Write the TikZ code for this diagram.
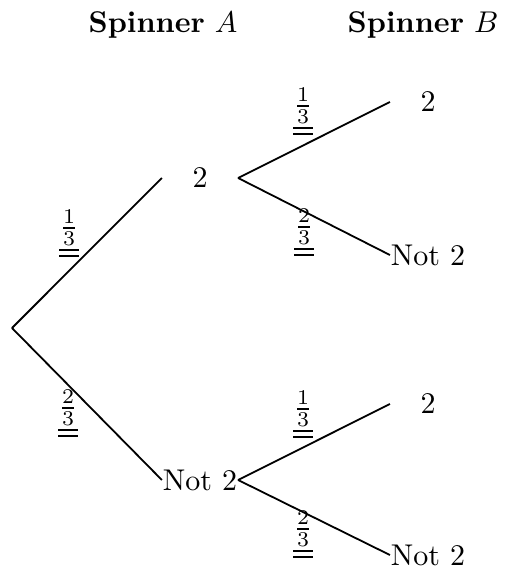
\documentclass[tikz,border=0pt]{standalone}
\begin{document}
\begin{tikzpicture}[x=0.3333pt,y=-0.3333pt,
 outcome/.style={inner sep=0pt,minimum width=25pt},
 prob/.style={inner sep=0pt},
 branch/.style={semithick}]
 \useasboundingbox (0,0) rectangle (511,571);
 \node (headA) at (163,25) {\textbf{Spinner} $A$};
 \node (headB) at (423,25) {\textbf{Spinner} $B$};
 \coordinate (root) at (12,328);
 \node[outcome] (a2) at (200,178) {2};
 \node[outcome] (an) at (200,480) {Not 2};
 \node[outcome] (b22) at (428,102) {2};
 \node[outcome] (b2n) at (428,255) {Not 2};
 \node[outcome] (bn2) at (428,404) {2};
 \node[outcome] (bnn) at (428,555) {Not 2};
 \draw[branch] (root)--(a2.west);
 \draw[branch] (root)--(an.west);
 \draw[branch] (a2.east)--(b22.west);
 \draw[branch] (a2.east)--(b2n.west);
 \draw[branch] (an.east)--(bn2.west);
 \draw[branch] (an.east)--(bnn.west);
 \node[prob] (pa2) at (69,234) {$\underline{\underline{\frac{1}{3}}}$};
 \node[prob] (pan) at (68,414) {$\underline{\underline{\frac{2}{3}}}$};
 \node[prob] (pb22) at (303,112) {$\underline{\underline{\frac{1}{3}}}$};
 \node[prob] (pb2n) at (304,233) {$\underline{\underline{\frac{2}{3}}}$};
 \node[prob] (pbn2) at (303,415) {$\underline{\underline{\frac{1}{3}}}$};
 \node[prob] (pbnn) at (303,535) {$\underline{\underline{\frac{2}{3}}}$};
\end{tikzpicture}
\end{document}
